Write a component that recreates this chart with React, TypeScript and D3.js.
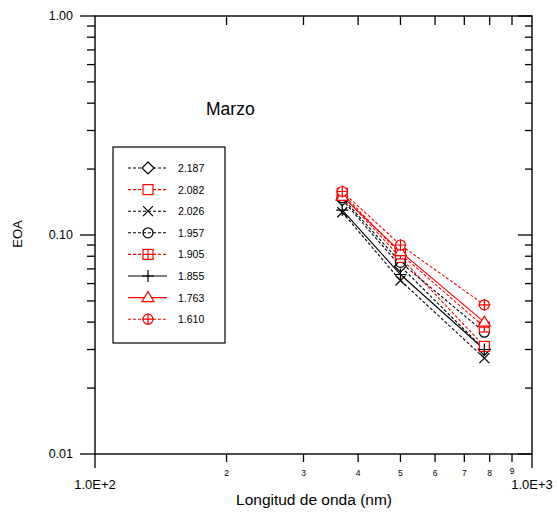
import React from "react";
import * as d3 from "d3";

const wavelengths = [368, 500, 778];
const seriesLabels = ["2.187", "2.082", "2.026", "1.957", "1.905", "1.855", "1.763", "1.610"];
const seriesColors = ["#000", "#ff0000", "#000", "#000", "#ff0000", "#000", "#ff0000", "#ff0000"];
const seriesDashed = [true, true, true, true, true, false, false, true];
const seriesMarkers = ["diamond", "square", "x", "circle", "squareplus", "plus", "triangle", "circleplus"];
const s2187 = [0.145, 0.072, 0.030];
const s2082 = [0.152, 0.079, 0.031];
const s2026 = [0.127, 0.062, 0.0274];
const s1957 = [0.148, 0.075, 0.036];
const s1905 = [0.155, 0.082, 0.038];
const s1855 = [0.130, 0.066, 0.030];
const s1763 = [0.150, 0.084, 0.040];
const s1610 = [0.158, 0.090, 0.048];
const seriesValues = [s2187, s2082, s2026, s1957, s1905, s1855, s1763, s1610];

const yMajor = [0.01, 0.1, 1];
const yMajorLabels = ["0.01", "0.10", "1.00"];
const xMinor = [200, 300, 400, 500, 600, 700, 800, 900];
const xMinorLabels = ["2", "3", "4", "5", "6", "7", "8", "9"];
const xMajorLabels = ["1.0E+2", "1.0E+3"];

const L = 95, R = 532, T = 16, B = 454;
const FONT = "'Liberation Sans', Arial, sans-serif";

function Marker({ type, color, x, y }: { type: string; color: string; x: number; y: number }) {
  const s = 5;
  const sw = 1.2;
  switch (type) {
    case "diamond":
      return <path d={`M${x},${y - 6}L${x + 6},${y}L${x},${y + 6}L${x - 6},${y}Z`} fill="white" stroke={color} strokeWidth={sw} />;
    case "square":
      return <rect x={x - s} y={y - s} width={2 * s} height={2 * s} fill="white" stroke={color} strokeWidth={sw} />;
    case "x":
      return <path d={`M${x - s},${y - s}L${x + s},${y + s}M${x - s},${y + s}L${x + s},${y - s}`} stroke={color} strokeWidth={sw} fill="none" />;
    case "circle":
      return <circle cx={x} cy={y} r={s} fill="none" stroke={color} strokeWidth={sw} />;
    case "squareplus":
      return (
        <g>
          <rect x={x - s} y={y - s} width={2 * s} height={2 * s} fill="white" stroke={color} strokeWidth={sw} />
          <path d={`M${x - s},${y}L${x + s},${y}M${x},${y - s}L${x},${y + s}`} stroke={color} strokeWidth={sw} />
        </g>
      );
    case "plus":
      return <path d={`M${x - 6},${y}L${x + 6},${y}M${x},${y - 6}L${x},${y + 6}`} stroke={color} strokeWidth={sw} />;
    case "triangle":
      return <path d={`M${x},${y - 6}L${x + 6},${y + 4}L${x - 6},${y + 4}Z`} fill="white" stroke={color} strokeWidth={sw} />;
    case "circleplus":
      return (
        <g>
          <circle cx={x} cy={y} r={s} fill="white" stroke={color} strokeWidth={sw} />
          <path d={`M${x - 6},${y}L${x + 6},${y}M${x},${y - 6}L${x},${y + 6}`} stroke={color} strokeWidth={sw} />
        </g>
      );
  }
  return null;
}

export default function App() {
  const x = d3.scaleLog().domain([100, 1000]).range([L, R]);
  const y = d3.scaleLog().domain([0.01, 1]).range([B, T]);
  const yMinor: number[] = [];
  [0.01, 0.1].forEach((d) => {
    for (let k = 2; k <= 9; k++) yMinor.push(d * k);
  });
  const line = d3
    .line<number>()
    .x((_, i) => x(wavelengths[i]))
    .y((v) => y(v));

  const legendRows = seriesLabels.map((_, i) => 168 + i * 21.6);

  return (
    <svg width={558} height={515} style={{ position: "absolute", left: 0, top: 0, background: "white" }}>
      <rect x={0} y={0} width={558} height={515} fill="white" />
      {seriesValues.map((vals, i) => (
        <path
          key={"l" + i}
          d={line(vals) || ""}
          fill="none"
          stroke={seriesColors[i]}
          strokeWidth={1.1}
          strokeDasharray={seriesDashed[i] ? "3,2" : undefined}
        />
      ))}
      {seriesValues.map((vals, i) =>
        vals.map((v, j) => (
          <Marker key={`m${i}-${j}`} type={seriesMarkers[i]} color={seriesColors[i]} x={x(wavelengths[j])} y={y(v)} />
        ))
      )}
      <rect x={L} y={T} width={R - L} height={B - T} fill="none" stroke="#000" strokeWidth={1.4} />
      {yMajor.map((v, i) => (
        <g key={"ym" + i}>
          <line x1={L - 15} x2={L} y1={y(v)} y2={y(v)} stroke="#000" strokeWidth={1.3} />
          <line x1={R - 14} x2={R} y1={y(v)} y2={y(v)} stroke="#000" strokeWidth={1.3} />
          <text x={73} y={y(v) + 4} textAnchor="end" fontFamily={FONT} fontSize={12.5} fill="#000">
            {yMajorLabels[i]}
          </text>
        </g>
      ))}
      {yMinor.map((v, i) => (
        <g key={"yn" + i}>
          <line x1={L - 8} x2={L} y1={y(v)} y2={y(v)} stroke="#000" strokeWidth={1.3} />
          <line x1={R - 7} x2={R} y1={y(v)} y2={y(v)} stroke="#000" strokeWidth={1.3} />
        </g>
      ))}
      {[100, 1000].map((v, i) => (
        <g key={"xm" + i}>
          <line x1={x(v)} x2={x(v)} y1={B} y2={B + 14} stroke="#000" strokeWidth={1.3} />
          <text x={x(v)} y={489} textAnchor="middle" fontFamily={FONT} fontSize={13} fill="#000">
            {xMajorLabels[i]}
          </text>
        </g>
      ))}
      {xMinor.map((v, i) => (
        <g key={"xn" + i}>
          <line x1={x(v)} x2={x(v)} y1={B} y2={B + 8} stroke="#000" strokeWidth={1.3} />
          <line x1={x(v)} x2={x(v)} y1={T} y2={T + 9} stroke="#000" strokeWidth={1.3} />
          <text x={x(v)} y={v === 900 ? 474 : 476} textAnchor="middle" fontFamily={FONT} fontSize={8.5} fill="#000">
            {xMinorLabels[i]}
          </text>
        </g>
      ))}
      <text x={314} y={505} textAnchor="middle" fontFamily={FONT} fontSize={15.5} fill="#000">
        Longitud de onda (nm)
      </text>
      <text transform="translate(22,234) rotate(-90)" textAnchor="middle" fontFamily={FONT} fontSize={13} fill="#000">
        EOA
      </text>
      <text x={206} y={115} fontFamily={FONT} fontSize={17.5} fill="#000">
        Marzo
      </text>
      <rect x={113} y={147} width={112} height={196} fill="white" stroke="#000" strokeWidth={1.2} />
      {seriesLabels.map((lab, i) => (
        <g key={"lg" + i}>
          <line
            x1={128}
            x2={167}
            y1={legendRows[i]}
            y2={legendRows[i]}
            stroke={seriesColors[i]}
            strokeWidth={1.1}
            strokeDasharray={seriesDashed[i] ? "3,2" : undefined}
          />
          <Marker type={seriesMarkers[i]} color={seriesColors[i]} x={148} y={legendRows[i]} />
          <text x={178} y={legendRows[i] + 4} fontFamily={FONT} fontSize={10.5} fill="#000">
            {lab}
          </text>
        </g>
      ))}
    </svg>
  );
}
